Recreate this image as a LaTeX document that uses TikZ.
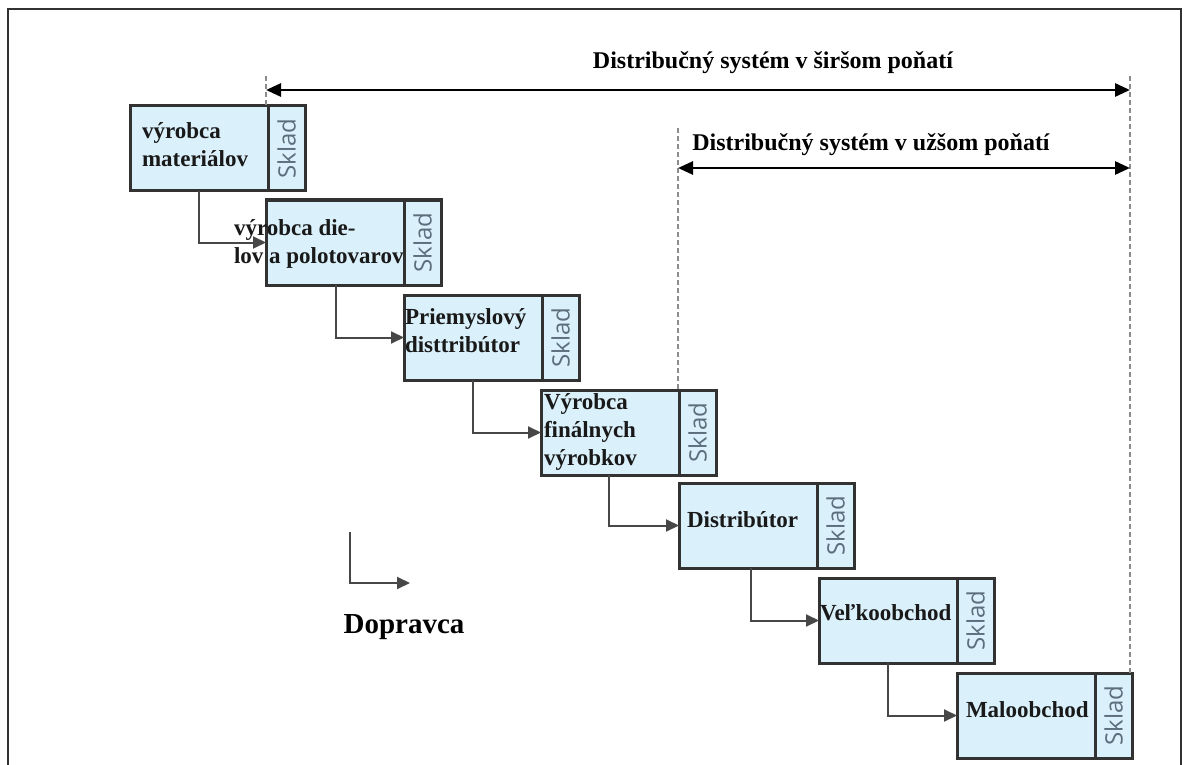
\documentclass[tikz,border=0pt]{standalone}
\usepackage{fontspec}
\setmainfont{Liberation Serif}
\newfontfamily\skladfont{Open Sans}
\usetikzlibrary{arrows.meta}
\usetikzlibrary{positioning}

\definecolor{boxblue}{RGB}{218,240,250}
\definecolor{skladgray}{RGB}{92,110,124}
\definecolor{edgegray}{RGB}{50,50,50}
\definecolor{guidegray}{RGB}{140,140,140}

\begin{document}
\begin{tikzpicture}[x=1pt, y=-1pt, line width=2pt,
    stage/.style={draw=edgegray, fill=boxblue, line width=3pt, minimum width=138pt, minimum height=85pt, inner sep=0pt, outer sep=0pt, anchor=north west},
    skladbox/.style={draw=edgegray, fill=boxblue, line width=3pt, minimum width=37pt, minimum height=85pt, inner sep=0pt, outer sep=0pt, text=skladgray, font=\skladfont\fontsize{24}{28}\selectfont},
    lbl/.style={font=\fontsize{23}{28}\selectfont\bfseries, align=left, anchor=west, inner sep=0pt, text=black!90},
    head/.style={font=\fontsize{24}{29}\selectfont\bfseries, inner sep=0pt},
    flow/.style={draw=edgegray!90, line width=2pt, -{Triangle[length=13pt,width=12pt]}},
    span/.style={draw=black, line width=2.8pt, {Triangle[length=15pt,width=13pt]}-{Triangle[length=15pt,width=13pt]}},
    guide/.style={draw=guidegray, line width=1.8pt, dash pattern=on 5pt off 3pt}]

    \useasboundingbox (0,0) rectangle (1184,765);

    % draw frame
    \draw[edgegray, line width=2.5pt] (8,765) -- (8,9) -- (1181,9) -- (1181,765);

    %%%%%%%%
    % stages
    %%%%%%%%

    % draw boxes with their store
    \node[stage] (b1) at (130,106) {};
    \node[skladbox, right=0pt of b1] (s1) {\rotatebox{90}{Sklad}};
    \node[stage] (b2) at (266,200) {};
    \node[skladbox, right=0pt of b2] (s2) {\rotatebox{90}{Sklad}};
    \node[stage] (b3) at (404,295) {};
    \node[skladbox, right=0pt of b3] (s3) {\rotatebox{90}{Sklad}};
    \node[stage] (b4) at (541,390) {};
    \node[skladbox, right=0pt of b4] (s4) {\rotatebox{90}{Sklad}};
    \node[stage] (b5) at (679,483) {};
    \node[skladbox, right=0pt of b5] (s5) {\rotatebox{90}{Sklad}};
    \node[stage] (b6) at (819,578) {};
    \node[skladbox, right=0pt of b6] (s6) {\rotatebox{90}{Sklad}};
    \node[stage] (b7) at (957,673) {};
    \node[skladbox, right=0pt of b7] (s7) {\rotatebox{90}{Sklad}};

    % draw links between stages
    \draw[flow] ([xshift=69pt]b1.south west) |- (b2.west);
    \draw[flow] ([xshift=70pt]b2.south west) |- (b3.west);
    \draw[flow] ([xshift=69pt]b3.south west) |- (b4.west);
    \draw[flow] ([xshift=68pt]b4.south west) |- (b5.west);
    \draw[flow] ([xshift=72pt]b5.south west) |- (b6.west);
    \draw[flow] ([xshift=69pt]b6.south west) |- (b7.west);

    % stage names
    \node[lbl] (t1) at (141,145) {výrobca\\materiálov};
    \node[lbl] (t2) at (233,244) {výrobca die-\\lov a polotovarov};
    \node[lbl] (t3) at (404,331) {Priemyslový\\disttribútor};
    \node[lbl] (t4) at (543,432) {Výrobca\\finálnych\\výrobkov};
    \node[lbl] (t5) at (686,520) {Distribútor};
    \node[lbl] (t6) at (819,613) {Veľkoobchod};
    \node[lbl] (t7) at (965,710) {Maloobchod};

    %%%%%%%%
    % ranges
    %%%%%%%%

    % draw dashed limits
    \draw[guide] (266,76) -- (266,106);
    \draw[guide] (1130,76) -- (1130,673);
    \draw[guide] (678,128) -- (678,390);

    % draw range arrows
    \draw[span] (266,90) -- (1130,90);
    \draw[span] (678,168) -- (1130,168);
    \node[head] (wide) at (773,63) {Distribučný systém v širšom poňatí};
    \node[head] (narrow) at (871,145) {Distribučný systém v užšom poňatí};

    %%%%%%%%
    % legend
    %%%%%%%%
    \coordinate (d0) at (350,532);
    \coordinate (d1) at (410,583);
    \draw[flow] (d0) |- (d1);
    \node[font=\fontsize{29}{34}\selectfont\bfseries, inner sep=0pt] (dop) at (404,627) {Dopravca};
\end{tikzpicture}
\end{document}
